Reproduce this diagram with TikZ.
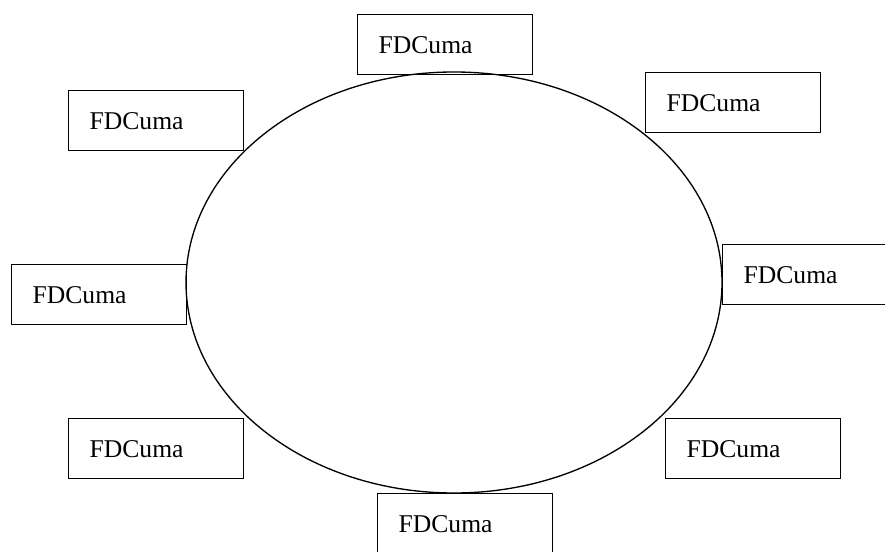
\documentclass[tikz,border=0pt]{standalone}
\usepackage{fontspec}
\setmainfont{Liberation Serif}
\usepackage{tikz}
\usetikzlibrary{shapes.geometric}
\tikzset{
  fdbox/.style={draw, line width=1pt, anchor=north west, align=left,
    inner xsep=15.75pt, inner ysep=0pt, text width=99.75pt, minimum height=45pt,
    font=\fontsize{19.2}{23}\selectfont},
  ring/.style={draw, ellipse, line width=1pt, inner sep=0pt,
    minimum width=402pt, minimum height=315.75pt}
}

\begin{document}
\begin{tikzpicture}[x=0.75pt, y=-0.75pt]
			%%%%% START %%%%%
			
			\useasboundingbox (0, 0) rectangle (885, 552);
			
			\node[ring] (orbit) at (454, 282.5) {};
			
			\node[fdbox] (fdtop) at (357, 14) {FDCuma};
			\node[fdbox] (fdtopright) at (645, 72) {FDCuma};
			\node[fdbox] (fdlefttop) at (68, 90) {FDCuma};
			\node[fdbox] (fdright) at (722, 244) {FDCuma};
			\node[fdbox] (fdleft) at (11, 264) {FDCuma};
			\node[fdbox] (fdleftbot) at (68, 418) {FDCuma};
			\node[fdbox] (fdrightbot) at (665, 418) {FDCuma};
			\node[fdbox] (fdbottom) at (377, 493) {FDCuma};
			
			%%%%% END %%%%%
\end{tikzpicture}
\end{document}
